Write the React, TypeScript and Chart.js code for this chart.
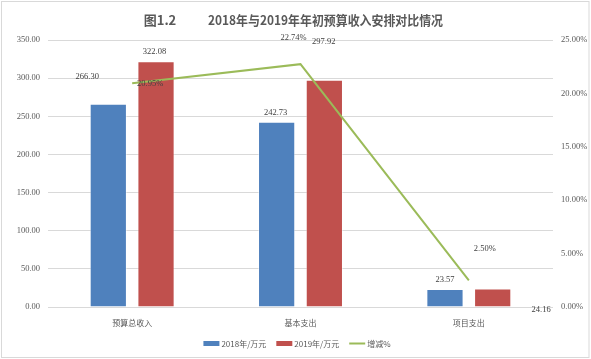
import React, { useEffect, useRef } from "react";
import { Chart, registerables } from "chart.js";

Chart.register(...registerables);

const categories = ["预算总收入", "基本支出", "项目支出"];
const values2018 = [266.3, 242.73, 23.57];
const values2019 = [322.08, 297.92, 24.16];
const growthPct = [20.95, 22.74, 2.5];
const seriesNames = ["2018年/万元", "2019年/万元", "增减%"];
const titlePrefix = "图1.2";
const titleText = "2018年与2019年年初预算收入安排对比情况";

// style: label offsets (px) relative to each mark's anchor
const labelOffsets = [
  [[-21, -27], [-1, -9.5], [0, -9]],
  [[-1.5, -9.6], [-0.6, -38], [48.4, 20.7]],
  [[18, 0.7], [-7, -26], [16, -32]],
];

const COLORS = ["#4f81bd", "#c0504d", "#9bbb59"];
const SERIF = "'Liberation Serif', 'DejaVu Serif', serif";
const CJK = "'Noto Sans CJK SC', 'Noto Sans', sans-serif";

const framePlugin = {
  id: "frame",
  beforeDraw(chart: any) {
    const { ctx, width, height } = chart;
    ctx.save();
    ctx.fillStyle = "#ffffff";
    ctx.fillRect(0, 0, width, height);
    ctx.strokeStyle = "#d9d9d9";
    ctx.lineWidth = 1;
    ctx.strokeRect(1.5, 1.5, width - 3.5, height - 3);
    ctx.restore();
  },
  afterDraw(chart: any) {
    const { ctx } = chart;
    ctx.save();
    // title
    ctx.fillStyle = "#595959";
    ctx.font = `bold 13px ${CJK}`;
    ctx.textBaseline = "middle";
    ctx.textAlign = "center";
    ctx.fillText(titlePrefix, 160, 20);
    ctx.fillText(titleText, 325.5, 20, 235);
    // legend
    ctx.font = `8px ${CJK}`;
    const boxW = 16;
    const gap = 2;
    const spacing = 10;
    const widths = seriesNames.map((n) => boxW + gap + ctx.measureText(n).width);
    const total = widths.reduce((a, b) => a + b, 0) + spacing * (widths.length - 1);
    let x = 297 - total / 2;
    const y = 343.5;
    seriesNames.forEach((name, i) => {
      if (i < 2) {
        ctx.fillStyle = COLORS[i];
        ctx.fillRect(x, y - 2.5, boxW, 5);
      } else {
        ctx.strokeStyle = COLORS[i];
        ctx.lineWidth = 2;
        ctx.beginPath();
        ctx.moveTo(x, y);
        ctx.lineTo(x + boxW, y);
        ctx.stroke();
      }
      ctx.fillStyle = "#595959";
      ctx.textAlign = "left";
      ctx.fillText(name, x + boxW + gap, y);
      x += widths[i] + spacing;
    });
    ctx.restore();
  },
};

const labelsPlugin = {
  id: "valueLabels",
  afterDatasetsDraw(chart: any) {
    const { ctx } = chart;
    ctx.save();
    ctx.font = `8.5px ${SERIF}`;
    ctx.fillStyle = "#404040";
    ctx.textAlign = "center";
    ctx.textBaseline = "middle";
    chart.data.datasets.forEach((ds: any, di: number) => {
      const meta = chart.getDatasetMeta(di);
      meta.data.forEach((el: any, i: number) => {
        const v = ds.data[i];
        const txt = di === 2 ? v.toFixed(2) + "%" : v.toFixed(2);
        const off = labelOffsets[di][i];
        ctx.fillText(txt, el.x + off[0], el.y + off[1]);
      });
    });
    ctx.restore();
  },
};

export default function App() {
  const ref = useRef<HTMLCanvasElement>(null);
  useEffect(() => {
    document.body.style.margin = "0";
    const chart = new Chart(ref.current as HTMLCanvasElement, {
      type: "bar",
      data: {
        labels: categories,
        datasets: [
          {
            label: seriesNames[0],
            data: values2018,
            backgroundColor: COLORS[0],
            borderColor: "rgba(255,255,255,0.45)",
            borderWidth: 1,
            categoryPercentage: 0.567,
            barPercentage: 0.78,
            yAxisID: "y",
          },
          {
            label: seriesNames[1],
            data: values2019,
            backgroundColor: COLORS[1],
            borderColor: "rgba(255,255,255,0.45)",
            borderWidth: 1,
            categoryPercentage: 0.567,
            barPercentage: 0.78,
            yAxisID: "y",
          },
          {
            type: "line",
            label: seriesNames[2],
            data: growthPct,
            borderColor: COLORS[2],
            backgroundColor: COLORS[2],
            borderWidth: 2,
            pointRadius: 0,
            tension: 0,
            fill: false,
            yAxisID: "y1",
            order: -1,
          } as any,
        ],
      },
      options: {
        responsive: true,
        maintainAspectRatio: false,
        animation: false,
        layout: { padding: { top: 40, left: 0, right: 0, bottom: 0 } },
        plugins: {
          legend: { display: false },
          title: { display: false },
          tooltip: { enabled: false },
        },
        scales: {
          x: {
            grid: { display: false, drawTicks: false },
            border: { display: false },
            ticks: {
              padding: 11,
              color: "#595959",
              font: { family: CJK, size: 8 },
            },
            afterFit: (s: any) => {
              s.height = 52;
            },
          },
          y: {
            position: "left",
            min: 0,
            max: 350,
            grid: { color: "#d9d9d9", drawTicks: false },
            border: { display: false },
            ticks: {
              stepSize: 50,
              padding: 8,
              color: "#595959",
              font: { family: SERIF, size: 8.5 },
              callback: (v: any) => Number(v).toFixed(2),
            },
            afterFit: (s: any) => {
              s.width = 48;
            },
          },
          y1: {
            position: "right",
            min: 0,
            max: 25,
            grid: { display: false, drawTicks: false },
            border: { display: false },
            ticks: {
              stepSize: 5,
              padding: 8,
              color: "#595959",
              font: { family: SERIF, size: 8.5 },
              callback: (v: any) => Number(v).toFixed(2) + "%",
            },
            afterFit: (s: any) => {
              s.width = 38;
            },
          },
        },
      },
      plugins: [framePlugin, labelsPlugin],
    });
    return () => chart.destroy();
  }, []);
  return (
    <div style={{ width: 591, height: 359, position: "relative" }}>
      <canvas ref={ref} />
    </div>
  );
}
